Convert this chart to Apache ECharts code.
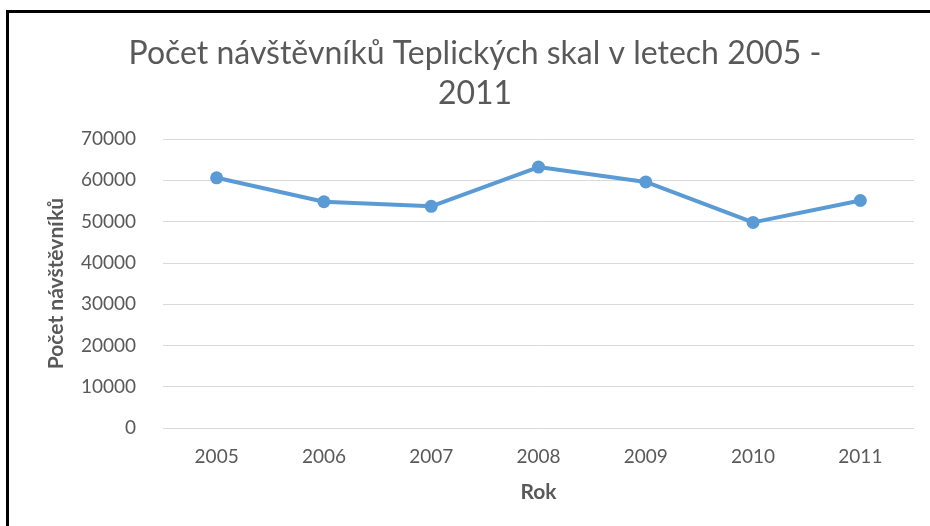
<!DOCTYPE html>
<html>
<head>
<meta charset="utf-8">
<script src="https://cdn.jsdelivr.net/npm/echarts@6/dist/echarts.min.js"></script>
<style>
  html, body { margin: 0; padding: 0; background: #fff; overflow: hidden; }
  #frame {
    position: absolute; left: 6px; top: 10px; width: 960px; height: 560px;
    border-left: 3px solid #000; border-top: 3px solid #000;
  }
  #chart { position: absolute; left: 0; top: 0; width: 930px; height: 526px; }
</style>
</head>
<body>
<div id="frame"></div>
<div id="chart"></div>
<script>
const years = ['2005', '2006', '2007', '2008', '2009', '2010', '2011']
const visitors = [60600, 54800, 53700, 63200, 59600, 49800, 55100]

const textColor = '#595959'
const fontFamily = 'Lato, "Open Sans", sans-serif'

const chart = echarts.init(document.getElementById('chart'))
chart.setOption({
  animation: false,
  title: {
    text: 'Počet návštěvníků Teplických skal v letech 2005 -\n2011',
    left: 470,
    top: 29,
    textAlign: 'center',
    textStyle: {
      color: textColor,
      fontFamily,
      fontWeight: 'normal',
      fontSize: 32,
      lineHeight: 40
    }
  },
  grid: {
    left: 163,
    right: 16,
    top: 139,
    bottom: 98
  },
  xAxis: {
    type: 'category',
    data: years,
    boundaryGap: true,
    name: 'Rok',
    nameLocation: 'middle',
    nameGap: 54,
    nameTextStyle: { color: textColor, fontFamily, fontWeight: 'bold', fontSize: 21 },
    axisLine: { show: false },
    axisTick: { show: false },
    axisLabel: { color: textColor, fontFamily, fontSize: 19, margin: 19 }
  },
  yAxis: {
    type: 'value',
    min: 0,
    max: 70000,
    interval: 10000,
    name: 'Počet návštěvníků',
    nameLocation: 'middle',
    nameGap: 96,
    nameTextStyle: { color: textColor, fontFamily, fontWeight: 'bold', fontSize: 21 },
    axisLine: { show: false },
    axisTick: { show: false },
    axisLabel: { color: textColor, fontFamily, fontSize: 19, margin: 27, formatter: v => String(v) },
    splitLine: { lineStyle: { color: '#d9d9d9', width: 1 } }
  },
  series: [{
    name: 'Počet návštěvníků',
    type: 'line',
    data: visitors,
    symbol: 'circle',
    symbolSize: 13,
    lineStyle: { color: '#5b9bd5', width: 4 },
    itemStyle: { color: '#5b9bd5' }
  }]
})
</script>
</body>
</html>
